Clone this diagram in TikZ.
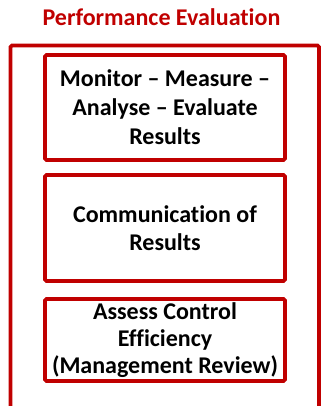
\documentclass[tikz,border=0pt]{standalone}
\usepackage{fontspec}
\setmainfont[Ligatures={NoCommon}]{Carlito}
\definecolor{darkred}{HTML}{C00000}
\tikzset{
  stepbox/.style={draw=darkred, line width=3.6pt, rounded corners=1.5pt, minimum width=240pt, inner sep=0pt, align=center, font=\fontsize{24}{29}\selectfont\bfseries, text=black},
  titletext/.style={font=\fontsize{24}{29}\selectfont\bfseries, text=darkred, inner sep=0pt, anchor=base}
}
\begin{document}
\begin{tikzpicture}[x=1pt,y=1pt]
\useasboundingbox (0,0) rectangle (322,-406);
\clip (0,0) rectangle (322,-406);
\node[titletext] (title) at (161.5,-25.7) {Performance Evaluation};
\draw[draw=darkred, line width=3.8pt, rounded corners=1.5pt] (10.5,-430) -- (10.5,-45.5) -- (319,-45.5) -- (319,-430);
\node[stepbox, minimum height=105pt] (b1) at (165,-107.5) {Monitor – Measure –\\Analyse – Evaluate\\Results};
\node[stepbox, minimum height=106pt, font=\fontsize{24}{28.5}\selectfont\bfseries] (b2) at (165,-228) {Communication of\\Results};
\node[stepbox, minimum height=82pt, font=\fontsize{24}{27}\selectfont\bfseries] (b3) at (165,-340) {Assess Control\\Efficiency\\(Management Review)};
\end{tikzpicture}
\end{document}
